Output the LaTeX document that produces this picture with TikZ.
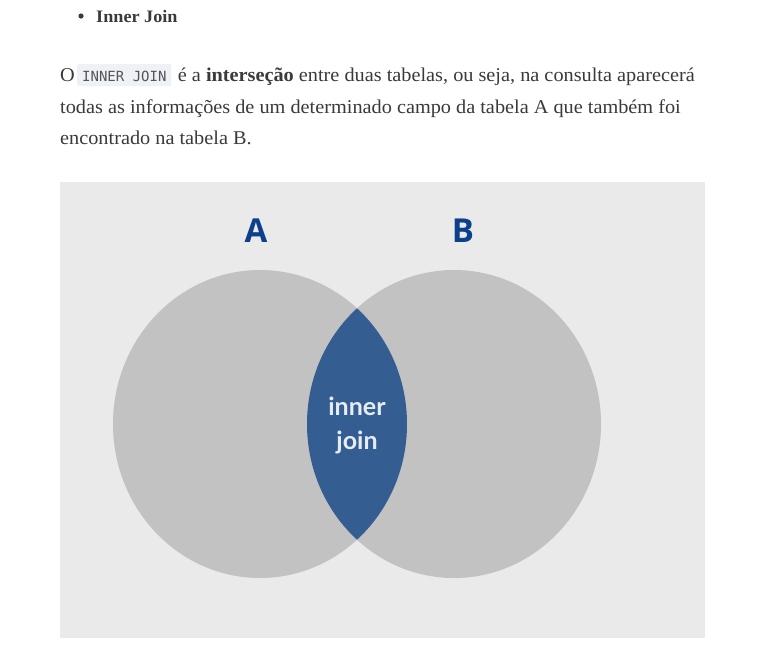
\documentclass[tikz,border=0pt]{standalone}
\usepackage{fontspec}
\usepackage{tikz}
\setmainfont[FakeStretch=1.04]{Liberation Serif}
\newfontfamily\labelfont{Open Sans}
\newfontfamily\lensfont{Lato}
\newfontfamily\codefont{DejaVu Sans Mono}
\definecolor{prose}{HTML}{3A3A3A}
\definecolor{panel}{HTML}{EAEAEA}
\definecolor{setgrey}{HTML}{C2C2C2}
\definecolor{lens}{HTML}{345D92}
\definecolor{setblue}{HTML}{0D408B}
\definecolor{codebg}{HTML}{EEF1F5}
\definecolor{codetxt}{HTML}{555555}
\tikzset{
  prosetxt/.style={anchor=base west,inner sep=0pt,text=prose,font=\fontsize{19.5}{23}\selectfont},
  codetag/.style={anchor=base west,fill=codebg,rounded corners=2pt,text=codetxt,
    inner xsep=5pt,inner ysep=0pt,text height=17pt,text depth=5pt,font=\codefont\fontsize{14}{16}\selectfont},
  setlabel/.style={text=setblue,font=\labelfont\bfseries\fontsize{33}{36}\selectfont},
}
\begin{document}
\begin{tikzpicture}[x=1pt,y=-1pt]
\useasboundingbox (0,0) rectangle (775,657);
\fill[white] (0,0) rectangle (775,657);
% heading
\fill[prose] (81,16) circle(2.6);
\node[prosetxt,font=\fontsize{17.5}{21}\selectfont\bfseries] (head) at (96,22) {Inner Join};
% paragraph
\node[prosetxt] (o) at (60,81) {O};
\node[codetag] (code) at (77,81) {INNER JOIN};
\node[prosetxt] (l1) at ([xshift=6pt]code.base east) {é a \textbf{interseção} entre duas tabelas, ou seja, na consulta aparecerá};
\node[prosetxt] (l2) at (60,113) {todas as informações de um determinado campo da tabela A que também foi};
\node[prosetxt] (l3) at (60,144) {encontrado na tabela B.};
% venn diagram
\fill[panel] (60,182) rectangle (705,638);
\fill[setgrey] (260,424) ellipse[x radius=147,y radius=154];
\fill[setgrey] (454,424) ellipse[x radius=147,y radius=154];
\begin{scope}
\clip (260,424) ellipse[x radius=147,y radius=154];
\fill[lens] (454,424) ellipse[x radius=147,y radius=154];
\end{scope}
\node[setlabel] (a) at (256,231) {A};
\node[setlabel] (b) at (463,231) {B};
\node[text=white!88!lens,align=center,font=\lensfont\bfseries\fontsize{25}{34}\selectfont] (inner) at (357,425) {inner\\join};
\end{tikzpicture}
\end{document}
